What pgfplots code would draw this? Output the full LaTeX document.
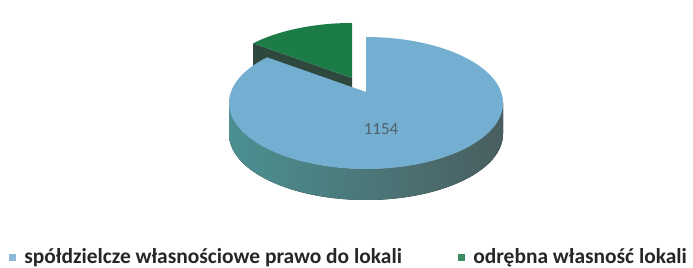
\documentclass[border=0pt]{standalone}
\usepackage{pgfplots}
\pgfplotsset{compat=1.18}
\usepgfplotslibrary{fillbetween}
\usepackage{fontspec}
\setmainfont{Carlito}
\definecolor{bluetop}{RGB}{116,174,208}
\definecolor{sideL}{RGB}{76,144,146}
\definecolor{sideR}{RGB}{74,94,96}
\definecolor{greentop}{RGB}{28,124,72}
\definecolor{greenside}{RGB}{46,72,62}
\definecolor{legblue}{RGB}{140,185,215}
\definecolor{leggreen}{RGB}{60,140,100}
\definecolor{lblgray}{RGB}{80,95,105}
% data
\def\vA{1154}
\def\vB{170}
\pgfmathsetmacro\aA{360*(\vA/(\vA+\vB))}
% geometry (pixel units)
\def\cx{366}\def\cy{103}\def\rx{137}\def\ry{66}\def\dep{31}
\def\ax{366}\def\ay{92}
\def\ox{-14}\def\oy{-14}
\pgfmathsetmacro\px{\cx+\rx*sin(\aA)+\ox}
\pgfmathsetmacro\py{\cy-\ry*cos(\aA)+\oy}
\pgfmathsetmacro\gx{\ax+\ox}
\pgfmathsetmacro\gy{\ay+\oy}
\pgfmathsetmacro\pyd{\py+\dep}
\pgfmathsetmacro\gyd{\gy+\dep}
\pgfmathsetmacro\gcx{\cx+\ox}
\pgfmathsetmacro\gcy{\cy+\oy}
\begin{document}
\begin{tikzpicture}
\begin{axis}[at={(0,0)}, anchor=south west, scale only axis,
  width=693bp, height=268bp, xmin=0, xmax=693, ymin=0, ymax=268,
  y dir=reverse, axis line style={draw=none}, xtick=\empty, ytick=\empty,
  clip=false,
  legend columns=2,
  legend style={at={(axis cs:9,257)}, anchor=west, draw=none, fill=none,
    inner sep=0pt, outer sep=0pt, nodes={inner sep=0pt},
    font=\bfseries\fontsize{21.5}{24}\selectfont, text=black!85},
  /tikz/every odd column/.append style={column sep=9bp},
  /tikz/every even column/.append style={column sep=56bp},
  legend cell align=left]
% green slice (exploded), radial side face
\addplot[fill=greenside, draw=none, forget plot] coordinates {(\gx,\gy) (\px,\py) (\px,\pyd) (\gx,\gyd)};
% green slice top
\addplot[fill=greentop, draw=none, domain=\aA:360, samples=60, variable=\t, forget plot]
  ({\gcx+\rx*sin(\t)},{\gcy-\ry*cos(\t)}) -- (axis cs:\gx,\gy) -- cycle;
% blue slice outer side
\addplot[draw=none, name path=st, domain=90:270, samples=90, variable=\t, forget plot]
  ({\cx+\rx*sin(\t)},{\cy-\ry*cos(\t)});
\addplot[draw=none, name path=sb, domain=90:270, samples=90, variable=\t, forget plot]
  ({\cx+\rx*sin(\t)},{\cy+\dep-\ry*cos(\t)});
\addplot[left color=sideL, right color=sideR, draw=none, forget plot] fill between[of=st and sb];
% blue slice top
\addplot[fill=bluetop, draw=none, domain=0:\aA, samples=150, variable=\t, forget plot]
  ({\cx+\rx*sin(\t)},{\cy-\ry*cos(\t)}) -- (axis cs:\ax,\ay) -- cycle;
\node[text=lblgray, font=\fontsize{17}{20}\selectfont] at (axis cs:381,129) {1154};
% legend
\addlegendimage{legend image code/.code={\fill[legblue] (0bp,-3bp) rectangle (6bp,3bp);}}
\addlegendentry{spółdzielcze własnościowe prawo do lokali}
\addlegendimage{legend image code/.code={\fill[leggreen] (0bp,-3bp) rectangle (6bp,3bp);}}
\addlegendentry{odrębna własność lokali}
\end{axis}
\end{tikzpicture}
\end{document}
